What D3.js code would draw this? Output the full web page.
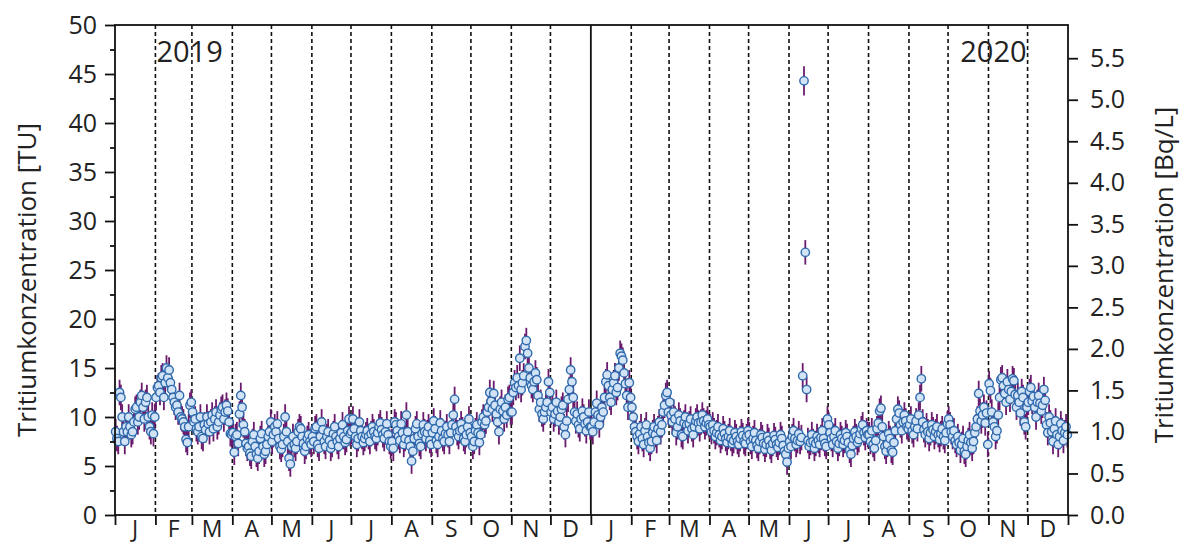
<!DOCTYPE html>
<html><head><meta charset="utf-8">
<script src="https://cdn.jsdelivr.net/npm/d3@7"></script>
<style>body{margin:0;background:#fff}svg{display:block}text{font-family:"Open Sans",sans-serif;fill:#222}</style>
</head><body>
<svg id="c" width="1186" height="545"></svg>
<script>
// Daily tritium concentration [TU], one array per month
const tu2019 = [
 [8.5,7.8,7.5,12.5,12,10,8.5,7.5,9,8.5,10,9,8.2,8.5,9.5,10.8,11,9.5,10,11.5,12.2,11,9.8,11.5,12,10,9,8.5,10.2,8.3,10],
 [12,13,13.2,12.5,14,14.2,12,13.5,15,14,14.8,13.5,12.8,12,11.5,11,11.2,10.5,12.2,10,9.8,9.5,9,7.7,7.4,9,11.2,11.5],
 [10.5,9.5,9.8,8.8,8.5,9,10,8,7.8,9.2,8.7,10,9.3,8.5,9.5,10.2,8.8,9.8,10.5,9,9.5,10.2,10.8,11,9.8,10.5,11.2,10.6,9.5,8.3,8.2],
 [8.4,6.4,8,8.2,7.3,10.3,12.2,11,9.2,8.5,7.3,6.8,7,6.3,6,7.5,8.2,7,6.2,5.8,6.5,7.8,8.3,7,6.2,6.5,7.2,8,8.5,9.5],
 [7.5,8.2,9,8.5,9.3,7.8,7,6.7,7.2,8,10,8.5,7.5,5.8,5.2,7,8,7.2,6.8,7.5,8.5,9,8.8,8,7.3,6.5,7,7.8,8.2,7.5,7.2],
 [8,7.5,8.8,9,7.2,6.8,8,9.5,8.7,7.5,7,8,8.5,7.6,6.8,7.2,8.3,9,8,7.5,7,7.8,8.4,9.2,8,7.4,7.7,8.6,9.8,8.3],
 [8.5,9.8,8.8,8,7.2,7.8,9.5,8.6,8,7.4,7.8,8.2,8.6,8,7.5,8.3,9,8.5,8,7.8,8.4,9,9.4,8.7,8.2,7.8,8.5,9.3,8.2,7.5,7],
 [7.5,6.8,9.5,9.2,8.6,8,7.6,9.3,8.4,7.2,7.8,10.2,8.5,7.6,7,5.5,6.5,7.8,8.8,9.3,8,7.3,7,8.3,9.2,8.5,7.8,8.4,9,7.6,7.2],
 [8.4,9.6,8.8,7.6,7.2,8,9.4,8.6,7.8,7.5,8.3,9,8.2,7.5,8.4,9.2,10.2,11.8,9,8.4,8,8.6,9.3,8.7,7.8,7.5,8.2,9,9.8,8.4],
 [8,7,7.5,8.6,9.2,8.4,7.4,8.2,9.5,10,9.2,9.6,10.5,11,12.5,11.6,10.8,12.4,11.2,10.3,9.5,8.5,10.8,11.5,10.6,9.8,11,10.2,11.8,12,10.5],
 [10.5,12.5,13.5,13,14,13.2,16,12.8,13.5,14.2,17.2,17.8,16.5,15,14,13.2,12.8,13.6,14.5,13.8,12.2,10.8,11.5,10.3,9.8,10.5,11,11.5,13.6,12.5],
 [10.5,11,9.8,10.3,11.5,10.6,9.5,10,10.8,11.2,9,8.2,9.6,11.8,12.8,14.8,13.6,12,10.5,9.6,10.3,9.2,8.8,9.8,10.6,10,9.3,8.6,9.5,10.5,9]
];
const tu2020 = [
 [9,8.5,9.5,10.5,11.4,10.2,9.2,10,11,10.5,12,13.6,14.3,13.2,12,11.5,12.8,13.5,14.2,12.5,13,15,16.5,16.2,15.8,14.5,13.4,12.2,11,13.5,12],
 [11,10,9,8.5,8,7.5,8.3,9,7.8,7.2,8.6,9.2,8,7.4,6.8,7.5,8.4,9,8.2,7.6,8.8,9.5,8.5,9.2,10.5,11.2,12.2,12.5,10.5],
 [11.5,10.2,9.5,10.5,9.8,8.4,9,10.2,9.6,8.2,8,9.4,10,9.2,8.6,9.3,9.8,8.8,8.2,9,9.6,10,9.4,8.8,9.5,10.2,9.6,9,9.4,9.8,9.2],
 [9,8.5,9.2,8.6,8,8.4,9,8.2,7.6,8,8.8,8.3,7.8,7.4,8,8.6,7.8,7.3,7.6,8.4,8,7.5,7.2,7.8,8.5,8.1,7.5,7.3,8,8.6],
 [8.2,7.5,7,7.8,8.4,7.6,7.1,6.8,7.5,8.2,7.9,7.3,6.7,7.2,8,7.6,7,6.6,7.3,8.1,7.7,7.2,6.9,7.4,8.2,7.8,7.1,6.5,6.2,5.4,6.8],
 [7.5,7,8,8.6,7.8,7.2,7.6,8.3,7.5,7.9,14.2,44.3,26.8,12.8,7.6,7,7.4,8.2,7.5,6.8,7.3,8,7.6,7.2,7.9,8.6,7.8,7.3,7,9.8],
 [9.2,8.4,7.8,7.2,8,8.6,7.5,6.8,7.3,8.2,7.8,7.2,7.6,8.4,8,7.4,6.6,6.2,7.1,7.8,8.5,8,7.4,7.7,8.3,8.8,9.2,8.4,7.9,8.6,8.2],
 [8.2,7.5,8.6,7.2,6.8,7.6,8.8,9.4,10.6,10.9,9,8,7,6.5,7.2,8.3,7.8,6.6,6.4,7.4,8.6,9.8,10.8,10.4,9.2,8.6,9.5,10.2,9.6,9,8.8],
 [9.2,9.8,8.6,8.2,9,9.6,8.8,10.2,12,13.9,9.5,8.7,8.2,9.1,8.5,7.8,8.4,9.2,8.7,8,8.5,9,8.2,7.7,8.3,8.8,8,7.6,8.4,9.3],
 [9.8,9.2,8.5,8,8.6,7.6,7.2,8,7.4,6.6,7.2,7.8,6.5,6.2,7,7.6,8.2,7.4,6.8,7.5,8.4,9,9.8,12.4,10.6,9.6,10.2,11,9.4,10.4,7.2],
 [13.4,12.7,10.5,9.5,9,8,8.6,10.2,12,13.8,14,13.2,12.4,11.5,13.6,12.8,11.8,12.6,13.9,13.7,12.3,11,12.2,11.5,10.4,12.6,12,9.5,9,11],
 [11.5,12.6,13,11.6,12.1,11,10,11.5,12.2,11.4,10.6,11.2,12.8,11.7,9.2,8.4,10,9.4,8.5,7.5,8.8,9.6,8.2,7.2,8,9.3,8.6,7.6,8.4,9,8.2]
];
const monthLabels = ["J","F","M","A","M","J","J","A","S","O","N","D"];
const yearLabels = ["2019","2020"];
const tuTicks = [0,5,10,15,20,25,30,35,40,45,50];
const bqTicks = [0,0.5,1,1.5,2,2.5,3,3.5,4,4.5,5,5.5];
const uncertaintyTU = 1.3;      // typical ±1σ in TU
const bigUncertainty = {"44.3":1.5,"26.8":1.25};
const tuToBq = 0.118;

const svg = d3.select("#c");
const L=115,R=1068,T=25,B=515;
const x = d3.scaleTime().domain([new Date(2019,0,1),new Date(2021,0,1)]).range([L,R]);
const y = d3.scaleLinear().domain([0,50]).range([B,T]);
const y2 = d3.scaleLinear().domain([0,50*tuToBq]).range([B,T]);

const pts=[];
[[2019,tu2019],[2020,tu2020]].forEach(([yr,arr])=>{
  arr.forEach((vals,m)=>{
    const s=new Date(yr,m,1).getTime(), e=new Date(yr,m+1,1).getTime();
    vals.forEach((v,i)=>{
      pts.push({d:new Date(s+(e-s)*(i+0.5)/vals.length),v,err:bigUncertainty[String(v)]||uncertaintyTU});
    });
  });
});

const months=d3.timeMonth.range(new Date(2019,0,1),new Date(2021,0,2));
svg.append("g").selectAll("line").data(months.filter(d=>d>new Date(2019,0,1)&&d<new Date(2021,0,1)&&d.getMonth()!==0))
 .join("line").attr("x1",d=>x(d)).attr("x2",d=>x(d)).attr("y1",T).attr("y2",B)
 .attr("stroke","#111").attr("stroke-width",1.6).attr("stroke-dasharray","4,3");
svg.append("line").attr("x1",x(new Date(2020,0,1))).attr("x2",x(new Date(2020,0,1))).attr("y1",T).attr("y2",B).attr("stroke","#111").attr("stroke-width",1.8);

svg.append("g").selectAll("line").data(pts).join("line")
 .attr("x1",d=>x(d.d)).attr("x2",d=>x(d.d)).attr("y1",d=>y(d.v-d.err)).attr("y2",d=>y(d.v+d.err))
 .attr("stroke","#6a1a6c").attr("stroke-width",1.8);
svg.append("g").selectAll("circle").data(pts).join("circle")
 .attr("cx",d=>x(d.d)).attr("cy",d=>y(d.v)).attr("r",4.2)
 .attr("fill","#d2e3f6").attr("stroke","#2f6aad").attr("stroke-width",1.4);

svg.append("rect").attr("x",L).attr("y",T).attr("width",R-L).attr("height",B-T).attr("fill","none").attr("stroke","#111").attr("stroke-width",1.8);

const gl=svg.append("g").attr("transform",`translate(${L},0)`)
 .call(d3.axisLeft(y).tickValues(tuTicks).tickSize(10).tickPadding(8).tickFormat(d3.format("d")));
gl.append("g").call(d3.axisLeft(y).tickValues(d3.range(2.5,50,5)).tickSize(5).tickFormat(""));
const gr=svg.append("g").attr("transform",`translate(${R},0)`)
 .call(d3.axisRight(y2).tickValues(bqTicks).tickSize(10).tickPadding(12).tickFormat(d3.format(".1f")));
const gb=svg.append("g").attr("transform",`translate(0,${B})`)
 .call(d3.axisBottom(x).tickValues(months).tickSize(10).tickFormat(""));
[gl,gr,gb].forEach(g=>{g.selectAll(".domain").remove();g.selectAll("line").attr("stroke","#111").attr("stroke-width",1.8);
 g.selectAll("text").attr("font-family","Open Sans").attr("font-size",25).attr("fill","#222");});

const mids=d3.timeMonth.range(new Date(2019,0,1),new Date(2021,0,1)).map(d=>{const e=d3.timeMonth.offset(d,1);return new Date((+d+ +e)/2);});
svg.append("g").selectAll("text").data(mids).join("text")
 .attr("x",d=>x(d)).attr("y",537).attr("text-anchor","middle").attr("font-size",23)
 .text(d=>monthLabels[d.getMonth()]);

svg.append("text").attr("x",x(new Date(2019,1,1))+1).attr("y",62).attr("font-size",29).text(yearLabels[0]);
svg.append("text").attr("x",x(new Date(2020,11,1))-1).attr("y",62).attr("text-anchor","end").attr("font-size",29).text(yearLabels[1]);

svg.append("text").attr("transform",`translate(36,${(T+B)/2+10}) rotate(-90)`).attr("text-anchor","middle").attr("font-size",26).text("Tritiumkonzentration [TU]");
svg.append("text").attr("transform",`translate(1173,${(T+B)/2+5}) rotate(-90)`).attr("text-anchor","middle").attr("font-size",26).text("Tritiumkonzentration [Bq/L]");
</script>
</body></html>
